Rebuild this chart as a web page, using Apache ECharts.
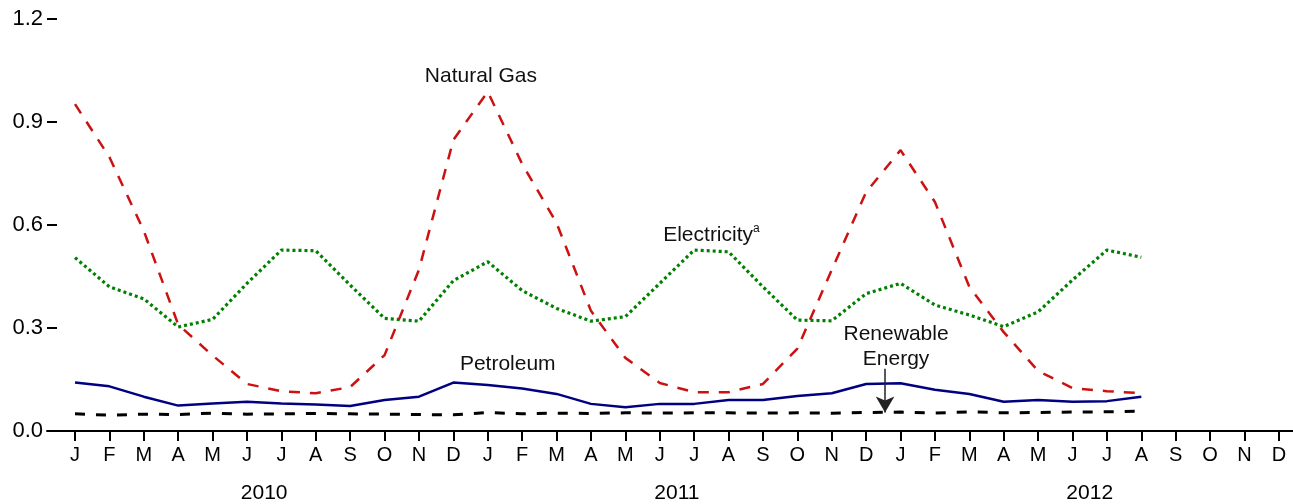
<!DOCTYPE html>
<html>
<head>
<meta charset="utf-8">
<script src="https://cdn.jsdelivr.net/npm/echarts@6/dist/echarts.min.js"></script>
<style>
html, body { margin: 0; padding: 0; background: #fff; }
#main { width: 1293px; height: 504px; }
</style>
</head>
<body>
<div id="main"></div>
<script>
// month ticks Jan 2010 .. Dec 2012
var monthLabels = ['J','F','M','A','M','J','J','A','S','O','N','D',
                   'J','F','M','A','M','J','J','A','S','O','N','D',
                   'J','F','M','A','M','J','J','A','S','O','N','D'];
var years = ['2010', '2011', '2012'];

// values Jan 2010 .. Aug 2012
var naturalGas = [0.952, 0.798, 0.583, 0.31, 0.22, 0.137, 0.116, 0.11, 0.128, 0.221, 0.47, 0.848,
                  0.988, 0.778, 0.606, 0.35, 0.213, 0.14, 0.113, 0.113, 0.137, 0.24, 0.469, 0.696,
                  0.818, 0.667, 0.42, 0.288, 0.175, 0.125, 0.116, 0.11];
var electricity = [0.505, 0.42, 0.385, 0.303, 0.325, 0.43, 0.527, 0.525, 0.425, 0.328, 0.32, 0.438,
                   0.493, 0.409, 0.357, 0.32, 0.333, 0.43, 0.527, 0.522, 0.42, 0.323, 0.321, 0.40,
                   0.43, 0.367, 0.338, 0.304, 0.347, 0.44, 0.527, 0.506];
var petroleum = [0.141, 0.13, 0.10, 0.074, 0.08, 0.085, 0.08, 0.077, 0.073, 0.09, 0.10, 0.141,
                 0.134, 0.124, 0.108, 0.079, 0.069, 0.079, 0.079, 0.09, 0.09, 0.102, 0.11, 0.137,
                 0.139, 0.12, 0.108, 0.085, 0.09, 0.085, 0.087, 0.10];
var renewable = [0.05, 0.046, 0.049, 0.048, 0.052, 0.049, 0.05, 0.051, 0.05, 0.049, 0.048, 0.047,
                 0.054, 0.05, 0.052, 0.051, 0.053, 0.052, 0.053, 0.053, 0.052, 0.053, 0.052, 0.054,
                 0.055, 0.052, 0.056, 0.053, 0.054, 0.055, 0.056, 0.058];

var FONT = '"Liberation Sans", Arial, sans-serif';

function pairs(arr) {
    return arr.map(function (v, i) { return [i, v]; });
}

var tickIdx = monthLabels.map(function (m, i) { return i; });

var chart = echarts.init(document.getElementById('main'));
var option = {
    animation: false,
    grid: { left: 47, right: 0, top: 19, bottom: 73 },
    xAxis: [
        {
            type: 'value',
            min: -0.814,
            max: 35.41,
            axisLine: { show: true, onZero: false, lineStyle: { color: '#000', width: 2 } },
            axisTick: { show: true, customValues: tickIdx, length: 10, lineStyle: { color: '#000', width: 2 } },
            axisLabel: {
                customValues: tickIdx,
                formatter: function (v) { return monthLabels[Math.round(v)]; },
                margin: 14, fontSize: 20, color: '#000', fontFamily: FONT
            },
            splitLine: { show: false }
        },
        {
            type: 'value',
            position: 'bottom',
            min: -0.814,
            max: 35.41,
            axisLine: { show: false, onZero: false },
            axisTick: { show: false },
            axisLabel: {
                customValues: [5.5, 17.5, 29.5],
                formatter: function (v) { return years[Math.floor(v / 12)]; },
                margin: 52, fontSize: 21, color: '#000', fontFamily: FONT
            },
            splitLine: { show: false }
        }
    ],
    yAxis: {
        type: 'value',
        min: 0,
        max: 1.2,
        interval: 0.3,
        axisLine: { show: false, onZero: false },
        axisTick: { show: true, inside: true, length: 10, lineStyle: { color: '#000', width: 2 } },
        axisLabel: {
            formatter: function (v) { return v.toFixed(1); },
            margin: 4, fontSize: 22, color: '#000', fontFamily: FONT
        },
        splitLine: { show: false }
    },
    series: [
        {
            name: 'Renewable Energy', type: 'line', data: pairs(renewable),
            showSymbol: false, silent: true,
            lineStyle: { color: '#000', width: 3, type: [10, 11] },
            markLine: {
                silent: true,
                symbol: ['none', 'arrow'],
                symbolSize: [14, 16],
                label: { show: false },
                lineStyle: { color: '#222', width: 1.5, type: 'solid' },
                data: [[{ coord: [23.55, 0.181] }, { coord: [23.55, 0.054] }]]
            }
        },
        {
            name: 'Petroleum', type: 'line', data: pairs(petroleum),
            showSymbol: false, silent: true,
            lineStyle: { color: '#000080', width: 2.5 }
        },
        {
            name: 'Electricity', type: 'line', data: pairs(electricity),
            showSymbol: false, silent: true,
            lineStyle: { color: '#008000', width: 3.2, type: [3, 3] }
        },
        {
            name: 'Natural Gas', type: 'line', data: pairs(naturalGas),
            showSymbol: false, silent: true,
            lineStyle: { color: '#cc1111', width: 2.5, type: [11, 10] }
        }
    ]
};
chart.setOption(option);

// series labels, placed in data coordinates
function at(x, v) { return chart.convertToPixel({ seriesIndex: 0 }, [x, v]); }
var pGas = at(11.8, 1.034);
var pEl = at(17.1, 0.571);
var pPet = at(11.19, 0.195);
var pRen = at(23.87, 0.246);
chart.setOption({
    graphic: [
        { type: 'text', x: pGas[0], y: pGas[1], style: { text: 'Natural Gas', font: '21px ' + FONT, fill: '#111', align: 'center', verticalAlign: 'middle' } },
        { type: 'text', x: pEl[0], y: pEl[1], style: {
            text: '{n|Electricity}{s|a}', align: 'left', verticalAlign: 'middle',
            rich: {
                n: { fontSize: 21, fontFamily: FONT, fill: '#111', lineHeight: 24 },
                s: { fontSize: 12, fontFamily: FONT, fill: '#111', verticalAlign: 'top', lineHeight: 24 }
            }
        } },
        { type: 'text', x: pPet[0], y: pPet[1], style: { text: 'Petroleum', font: '21px ' + FONT, fill: '#111', align: 'left', verticalAlign: 'middle' } },
        { type: 'text', x: pRen[0], y: pRen[1], style: { text: 'Renewable\nEnergy', font: '21px ' + FONT, fill: '#111', align: 'center', verticalAlign: 'middle', lineHeight: 25 } }
    ]
});
window.onresize = function () { chart.resize(); };
</script>
</body>
</html>
